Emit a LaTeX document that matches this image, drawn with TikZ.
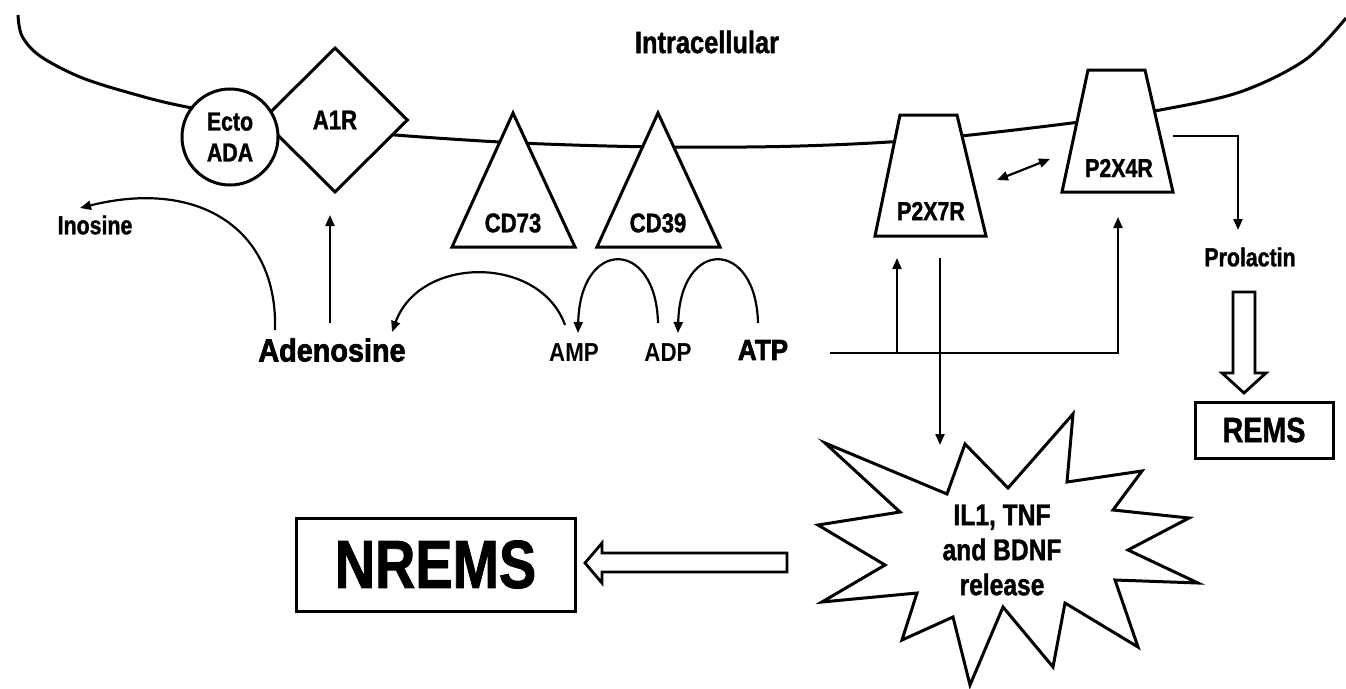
\documentclass[tikz,border=0pt]{standalone}
\usepackage{fontspec}
\setmainfont{Liberation Sans}[FakeStretch=0.82, BoldFeatures={FakeBold=1.3}]
\newfontfamily\wideb{Liberation Sans}[FakeStretch=0.9, BoldFeatures={FakeBold=2.2}]
\newfontfamily\medf{Liberation Sans}[FakeStretch=0.86]
\usetikzlibrary{arrows.meta,shapes.geometric}
\tikzset{
  shp/.style={draw, line width=3pt, fill=white, line join=miter},
  conn/.style={line width=2.2pt, -{Triangle[length=11pt,width=9pt]}},
  hollow/.style={draw, line width=2.8pt, fill=white, line join=miter},
  lbl/.style={font=\bfseries\fontsize{26}{30}\selectfont, inner sep=0pt},
  reg/.style={font=\medf\bfseries\fontsize{26}{30}\selectfont, inner sep=0pt},
  boxed/.style={draw, line width=3pt, inner sep=0pt},
}
\begin{document}
\begin{tikzpicture}[x=1pt,y=-1pt]
\useasboundingbox (0,0) rectangle (1346,688);
% membrane
\draw[line width=3pt] plot[smooth,tension=0.55] coordinates {(18,15) (22,36) (40,56) (80,77) (130,93) (187,107) (300,126) (395,135) (520,143) (660,147) (800,146) (930,139) (1080,122) (1160,110) (1240,92) (1305,60) (1346,18)};
\node[font=\bfseries\fontsize{31}{34}\selectfont, inner sep=0pt] (intra) at (707,42) {Intracellular};
% CD73 and CD39
\draw[shp] (513,113) -- (575,247) -- (452,247) -- cycle;
\node[lbl, font=\bfseries\fontsize{27}{30}\selectfont] (cd73) at (513,223) {CD73};
\draw[shp] (658,113) -- (720,247) -- (597,247) -- cycle;
\node[lbl, font=\bfseries\fontsize{27}{30}\selectfont] (cd39) at (658,223) {CD39};
% P2X receptors
\draw[shp] (900,115) -- (957,115) -- (986,236) -- (875,236) -- cycle;
\node[lbl] (p2x7) at (931,211) {P2X7R};
\draw[shp] (1088,70) -- (1145,70) -- (1173,192) -- (1062,192) -- cycle;
\node[lbl] (p2x4) at (1119,168) {P2X4R};
% A1R and Ecto ADA
\node[shp, diamond, aspect=1, minimum width=146pt, minimum height=145pt, inner sep=0pt,
      font=\bfseries\fontsize{27}{30}\selectfont] (a1r) at (335,120) {A1R};
\node[shp, circle, minimum size=96pt, inner sep=0pt, align=center,
      font=\bfseries\fontsize{26}{31}\selectfont] (ada) at (230,137) {Ecto\\ADA};
% substrates
\node[lbl] (ino) at (95,225) {Inosine};
\node[font=\wideb\bfseries\fontsize{32}{36}\selectfont, inner sep=0pt] (adeno) at (332,350) {Adenosine};
\node[reg] (amp) at (574,353) {AMP};
\node[reg] (adp) at (668,353) {ADP};
\node[font=\wideb\bfseries\fontsize{29}{32}\selectfont, inner sep=0pt] (atp) at (763,350) {ATP};
\node[lbl] (prl) at (1250,257) {Prolactin};
% boxes
\node[boxed, minimum width=138pt, minimum height=56pt, font=\bfseries\fontsize{35}{40}\selectfont] (rems) at (1264,430) {REMS};
\node[boxed, minimum width=279pt, minimum height=93pt, font=\bfseries\fontsize{68}{72}\selectfont] (nrems) at (435.5,564.5) {NREMS};
% starburst
\draw[line width=3pt, line join=miter, fill=white]
 (825,443) -- (947,494) -- (965,444) -- (1008,488) -- (1073,414) -- (1067,482)
 -- (1142,471) -- (1113,510) -- (1189,518) -- (1128,550) -- (1198,583) -- (1115,580)
 -- (1138,647) -- (1065,603) -- (1053,667) -- (1003,607) -- (970,685) -- (953,617)
 -- (902,640) -- (917,593) -- (822,602) -- (885,565) -- (818,525) -- (900,512) -- cycle;
\node[align=center, inner sep=0pt, font=\bfseries\fontsize{30}{35}\selectfont] (cyto) at (1002,550) {IL1, TNF\\and BDNF\\release};
% coordinates for connectors
\coordinate (adenoTop) at (330,323);
\coordinate (a1rBot) at (330,215);
\coordinate (adenoArc) at (275,330);
\coordinate (inoEnd) at (80,208);
\coordinate (ampArc) at (565,325);
\coordinate (adenoEnd) at (392,332);
\coordinate (adpArc) at (658,323);
\coordinate (ampEnd) at (578,333);
\coordinate (atpArc) at (758,323);
\coordinate (adpEnd) at (678,333);
\coordinate (atpLine) at (830,353);
\coordinate (branch7) at (897,353);
\coordinate (p2x7In) at (897,258);
\coordinate (corner4) at (1118,353);
\coordinate (p2x4In) at (1118,217);
\coordinate (p2x7Out) at (940,258);
\coordinate (cytoIn) at (940,445);
\coordinate (dblA) at (997,180);
\coordinate (dblB) at (1050,159);
\coordinate (p2x4Out) at (1173,136);
\coordinate (prlCorner) at (1238,136);
\coordinate (prlIn) at (1238,230);
% connectors
\draw[conn] (adenoTop) -- (a1rBot);
\draw[conn] (adenoArc) .. controls (278,230) and (200,178) .. (inoEnd);
\draw[conn] (ampArc) .. controls (540,255) and (420,255) .. (adenoEnd);
\draw[conn] (adpArc) .. controls (656,238) and (580,238) .. (ampEnd);
\draw[conn] (atpArc) .. controls (756,238) and (680,238) .. (adpEnd);
\draw[conn] (atpLine) -- (corner4) -- (p2x4In);
\draw[conn] (branch7) -- (p2x7In);
\draw[conn] (p2x7Out) -- (cytoIn);
\draw[line width=2.2pt, {Triangle[length=11pt,width=9pt]}-{Triangle[length=11pt,width=9pt]}] (dblA) -- (dblB);
\draw[conn] (p2x4Out) -- (prlCorner) -- (prlIn);
% hollow arrows
\draw[hollow] (1233,292) -- (1255,292) -- (1255,373) -- (1266,373) -- (1244,393) -- (1222,373) -- (1233,373) -- cycle;
\draw[hollow] (787,553) -- (787,572) -- (602,572) -- (602,583) -- (585,563) -- (602,543) -- (602,553) -- cycle;
\end{tikzpicture}
\end{document}
